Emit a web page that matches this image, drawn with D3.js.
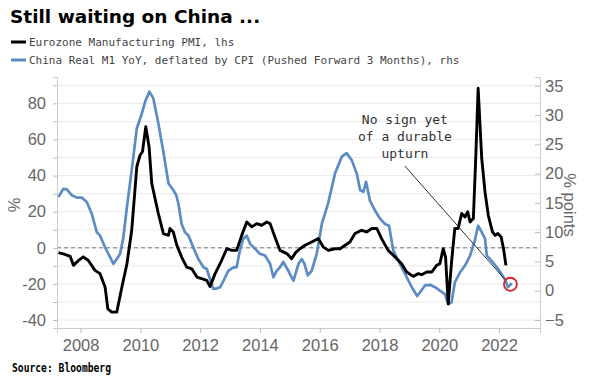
<!DOCTYPE html>
<html>
<head>
<meta charset="utf-8">
<script src="https://cdn.jsdelivr.net/npm/d3@7"></script>
<style>
body { margin: 0; background: #fff; }
</style>
</head>
<body>
<svg width="589" height="386"></svg>
<script>

// Eurozone Manufacturing PMI (lhs), decimal years and values
let pmiDates = [2007.26, 2007.45, 2007.65, 2007.76, 2007.93, 2008.09, 2008.26, 2008.48, 2008.65, 2008.82,
    2008.91, 2009.04, 2009.21, 2009.38, 2009.55, 2009.71, 2009.88, 2009.99, 2010.07, 2010.18,
    2010.29, 2010.38, 2010.6, 2010.77, 2010.94, 2010.99, 2011.1, 2011.22, 2011.38, 2011.55,
    2011.72, 2011.89, 2012.05, 2012.22, 2012.33, 2012.5, 2012.72, 2012.89, 2013.06, 2013.22,
    2013.39, 2013.56, 2013.73, 2013.89, 2014.06, 2014.23, 2014.34, 2014.5, 2014.67, 2014.9,
    2015.06, 2015.2, 2015.34, 2015.51, 2015.73, 2015.95, 2016.12, 2016.29, 2016.51, 2016.68,
    2016.85, 2017.01, 2017.18, 2017.4, 2017.57, 2017.74, 2017.91, 2018.07, 2018.29, 2018.52,
    2018.74, 2018.91, 2019.13, 2019.3, 2019.41, 2019.58, 2019.75, 2019.91, 2020.02, 2020.13,
    2020.21, 2020.3, 2020.41, 2020.52, 2020.63, 2020.75, 2020.86, 2020.95, 2021.03, 2021.14,
    2021.22, 2021.3, 2021.42, 2021.53, 2021.64, 2021.78, 2021.87, 2021.96, 2022.07, 2022.15,
    2022.23];
let pmiValues = [-2.7, -3.5, -4.7, -9.7, -7, -5, -7, -12.5, -14.3, -21.8,
    -33.8, -35.6, -35.6, -21.8, -8.8, 9.7, 44.9, 51.4, 53.2, 67.1,
    56, 35.7, 19, 7.9, 6.9, 10.7, 8.8, 1.4, -5.1, -10.7,
    -11.6, -16.2, -17.1, -18, -21.4, -14.3, -6.9, -0.5, -1.4, -1.4,
    6.9, 14.3, 11.6, 13.4, 12.5, 14.3, 13.4, 6, -1.4, -3.2,
    -6, -2.5, -0.5, 1.4, 3.2, 5.1, 0.4, -1.4, -0.5, -0.5,
    1.4, 3.2, 7.9, 9.7, 8.8, 10.7, 10.7, 5.1, -1.4, -5.1,
    -8.8, -13.4, -15.8, -14.3, -14.9, -13.4, -13.4, -9.7, -8.8, -0.5,
    -5.1, -31, -7.9, 10.7, 10.7, 19, 17.1, 19.9, 14.3, 16.2,
    49.6, 88.4, 49.6, 31, 18, 8.8, 6.9, 7.9, 6, -0.5,
    -9.7];

// China Real M1 YoY deflated by CPI, pushed forward 3 months (rhs)
let m1Dates = [2007.26, 2007.42, 2007.54, 2007.71, 2007.87, 2008.04, 2008.21, 2008.37, 2008.54, 2008.65,
    2008.82, 2008.99, 2009.1, 2009.21, 2009.32, 2009.43, 2009.55, 2009.71, 2009.88, 2010.05,
    2010.16, 2010.3, 2010.43, 2010.6, 2010.77, 2010.94, 2011.1, 2011.2, 2011.27, 2011.38,
    2011.49, 2011.61, 2011.77, 2011.94, 2012.11, 2012.22, 2012.33, 2012.44, 2012.56, 2012.67,
    2012.78, 2012.94, 2013.11, 2013.22, 2013.33, 2013.44, 2013.56, 2013.67, 2013.83, 2014,
    2014.17, 2014.34, 2014.45, 2014.56, 2014.67, 2014.78, 2014.95, 2015.12, 2015.29, 2015.4,
    2015.49, 2015.6, 2015.73, 2015.9, 2016.07, 2016.29, 2016.51, 2016.74, 2016.9, 2017.07,
    2017.24, 2017.35, 2017.46, 2017.55, 2017.68, 2017.85, 2018.02, 2018.18, 2018.32, 2018.46,
    2018.63, 2018.85, 2019.08, 2019.26, 2019.35, 2019.52, 2019.69, 2019.86, 2020.02, 2020.19,
    2020.3, 2020.41, 2020.52, 2020.69, 2020.86, 2021.03, 2021.19, 2021.3, 2021.42, 2021.53,
    2021.59, 2021.75, 2021.97, 2022.19, 2022.3, 2022.43];
let m1Values = [16, 17.4, 17.3, 16.3, 15.9, 15.9, 15.1, 13.2, 10, 9.4,
    7.4, 5.7, 4.6, 5.4, 6.3, 9.1, 14.3, 20.6, 27.7, 30.3,
    32.3, 34, 32.9, 28.6, 23.7, 18.3, 17.2, 16.3, 14.9, 11.4,
    10, 9.4, 7.4, 5.4, 4, 3.7, 2, 0.3, 0.4, 0.6,
    1.7, 3.4, 4, 4, 6.9, 8.9, 9.4, 8, 7.2, 6.3,
    6, 4.6, 2.3, 3.4, 4, 4.9, 3.4, 1.7, 4.6, 5.4,
    4.6, 2.6, 3.4, 6.3, 11.4, 15.1, 20, 22.9, 23.5, 22.3,
    20, 17.2, 16.9, 18.6, 15.4, 13.7, 12.3, 11.4, 11.1, 6.9,
    5.1, 2.9, 0.6, -0.9, -0.3, 0.9, 1, 0.6, 0, -0.6,
    -2.3, -2, 1.4, 3.1, 4.3, 6, 8.6, 11.1, 10, 8.9,
    6, 5.1, 3.7, 2, 0.6, 1.3];

let yearTicks = [2008, 2010, 2012, 2014, 2016, 2018, 2020, 2022];
let leftTicks = [-40, -30, -20, -10, 0, 10, 20, 30, 40, 50, 60, 70, 80, 90];
let rightTicks = [-5, 0, 5, 10, 15, 20, 25, 30, 35];

let svg = d3.select('svg');
let width = +svg.attr('width');
let height = +svg.attr('height');

let plot = { left: 57, right: 540, top: 77, bottom: 328 };
let labelFont = '"Liberation Sans Narrow", "Liberation Sans", sans-serif';
let monoFont = '"DejaVu Sans Mono", monospace';

let x = d3.scaleLinear().domain([2007.21, 2023.37]).range([plot.left, plot.right]);
let yL = d3.scaleLinear().domain([-44.4, 94.6]).range([plot.bottom, plot.top]);
let yR = d3.scaleLinear().domain([-6.37, 36.5]).range([plot.bottom, plot.top]);

// title and legend
svg.append('text')
    .attr('x', 10).attr('y', 23)
    .style('font-family', '"DejaVu Sans", sans-serif')
    .style('font-weight', 'bold')
    .style('font-size', '18.5px')
    .text('Still waiting on China ...');

let legend = [
    { name: 'Eurozone Manufacturing PMI, lhs', color: '#000' },
    { name: 'China Real M1 YoY, deflated by CPI (Pushed Forward 3 Months), rhs', color: '#5b8cc4' }
];
let lg = svg.selectAll('.legend')
    .data(legend)
    .enter().append('g')
    .attr('transform', (d, i) => 'translate(11,' + (42 + i * 18) + ')');
lg.append('line')
    .attr('x1', 0).attr('x2', 15)
    .attr('stroke', d => d.color)
    .attr('stroke-width', 3);
lg.append('text')
    .attr('x', 18).attr('y', 4)
    .style('font-family', monoFont)
    .style('font-size', '11px')
    .style('fill', '#444')
    .text(d => d.name);

// grid
svg.append('g')
    .selectAll('line')
    .data(leftTicks)
    .enter().append('line')
    .attr('x1', plot.left).attr('x2', plot.right)
    .attr('y1', d => yL(d)).attr('y2', d => yL(d))
    .attr('stroke', '#ebebeb')
    .attr('stroke-width', 1);

// zero line
svg.append('line')
    .attr('x1', plot.left).attr('x2', plot.right)
    .attr('y1', yL(0)).attr('y2', yL(0))
    .attr('stroke', '#777')
    .attr('stroke-width', 1)
    .attr('stroke-dasharray', '4,3');

// axes
let xAxis = svg.append('g')
    .attr('transform', 'translate(0,' + plot.bottom + ')')
    .call(d3.axisBottom(x).tickValues(yearTicks).tickFormat(d3.format('d')).tickSizeOuter(0).tickSize(5).tickPadding(6));

let leftAxis = svg.append('g')
    .attr('transform', 'translate(' + plot.left + ',0)')
    .call(d3.axisLeft(yL).tickValues(leftTicks).tickFormat(d => d % 20 === 0 ? d : '').tickSizeOuter(0).tickSize(4).tickPadding(7));

let rightAxis = svg.append('g')
    .attr('transform', 'translate(' + plot.right + ',0)')
    .call(d3.axisRight(yR).tickValues(rightTicks).tickSizeOuter(0).tickSize(-5).tickPadding(5));

[xAxis, leftAxis, rightAxis].forEach(a => {
    a.select('.domain').attr('stroke', '#ccc');
    a.selectAll('.tick line').attr('stroke', '#bbb');
    a.selectAll('.tick text')
        .style('font-family', labelFont)
        .style('font-size', '16.5px')
        .style('fill', '#666');
});

// axis titles
svg.append('text')
    .attr('transform', 'translate(20,205)rotate(-90)')
    .attr('text-anchor', 'middle')
    .style('font-family', labelFont)
    .style('font-size', '16.5px')
    .style('fill', '#666')
    .text('%');

svg.append('text')
    .attr('transform', 'translate(564,205)rotate(90)')
    .attr('text-anchor', 'middle')
    .style('font-family', labelFont)
    .style('font-size', '16.5px')
    .style('fill', '#666')
    .text('% points');

// series
let m1 = m1Dates.map((d, i) => [d, m1Values[i]]);
let pmi = pmiDates.map((d, i) => [d, pmiValues[i]]);

svg.append('path')
    .datum(m1)
    .attr('fill', 'none')
    .attr('stroke', '#5b8cc4')
    .attr('stroke-width', 2.7)
    .attr('stroke-linejoin', 'round')
    .attr('d', d3.line().x(d => x(d[0])).y(d => yR(d[1])));

svg.append('path')
    .datum(pmi)
    .attr('fill', 'none')
    .attr('stroke', '#000')
    .attr('stroke-width', 2.9)
    .attr('stroke-linejoin', 'round')
    .attr('d', d3.line().x(d => x(d[0])).y(d => yL(d[1])));

// annotation
let note = ['No sign yet', 'of a durable', 'upturn'];
let noteAt = 2018.85;
let target = [2022.2, 1.9];
let circleAt = [2022.38, 1.1];

svg.append('g')
    .selectAll('text')
    .data(note)
    .enter().append('text')
    .attr('x', x(noteAt))
    .attr('y', (d, i) => 124 + i * 17)
    .attr('text-anchor', 'middle')
    .style('font-family', monoFont)
    .style('font-size', '13px')
    .style('fill', '#333')
    .text(d => d);

svg.append('line')
    .attr('x1', x(noteAt)).attr('y1', 166)
    .attr('x2', x(target[0])).attr('y2', yR(target[1]))
    .attr('stroke', '#333')
    .attr('stroke-width', 1);

svg.append('circle')
    .attr('cx', x(circleAt[0]))
    .attr('cy', yR(circleAt[1]))
    .attr('r', 6.5)
    .attr('fill', 'none')
    .attr('stroke', '#d9222a')
    .attr('stroke-width', 1.8);

// source
svg.append('text')
    .attr('x', 12).attr('y', 372)
    .attr('textLength', 99)
    .attr('lengthAdjust', 'spacingAndGlyphs')
    .style('font-family', monoFont)
    .style('font-weight', 'bold')
    .style('font-size', '11.5px')
    .text('Source: Bloomberg');

</script>
</body>
</html>
